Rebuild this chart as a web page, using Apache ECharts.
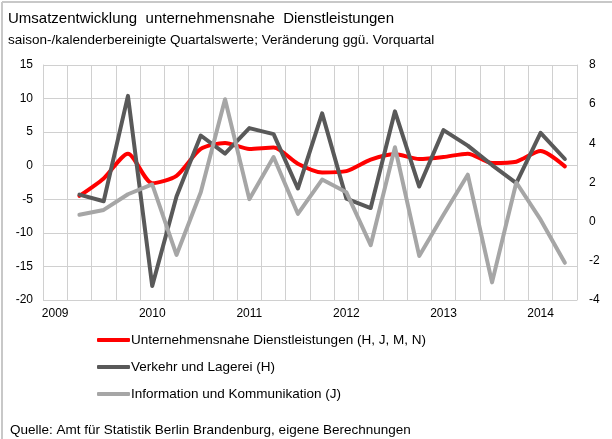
<!DOCTYPE html>
<html>
<head>
<meta charset="utf-8">
<script src="https://cdn.jsdelivr.net/npm/echarts@6/dist/echarts.min.js"></script>
<style>
  html, body { margin: 0; padding: 0; background: #fff; }
  #main { width: 612px; height: 439px; }
</style>
</head>
<body>
<div id="main"></div>
<script>
// Quartale 2009 Q1 bis 2014 Q2
var quarters = [
    '2009 Q1','2009 Q2','2009 Q3','2009 Q4',
    '2010 Q1','2010 Q2','2010 Q3','2010 Q4',
    '2011 Q1','2011 Q2','2011 Q3','2011 Q4',
    '2012 Q1','2012 Q2','2012 Q3','2012 Q4',
    '2013 Q1','2013 Q2','2013 Q3','2013 Q4',
    '2014 Q1','2014 Q2'
];

// linke Achse
var dienstleistungen = [null, -4.5, -1.9, 1.8, -2.6, -1.5, 2.5, 3.4, 2.5, 2.7, 0.3, -1.0,
    -0.8, 0.9, 1.7, 1.0, 1.3, 1.8, 0.4, 0.6, 2.2, -0.1];
var verkehr = [null, -4.3, -5.3, 10.4, -17.9, -4.6, 4.5, 1.8, 5.6, 4.7, -3.4, 7.8,
    -4.9, -6.3, 8.1, -3.1, 5.3, 3.0, 0.1, -2.6, 4.9, 1.0];
// rechte Achse
var information = [null, 0.35, 0.6, 1.4, 1.9, -1.7, 1.5, 6.25, 1.15, 3.3, 0.4, 2.15,
    1.5, -1.2, 3.8, -1.75, 0.35, 2.4, -3.1, 2.0, 0.1, -2.1];

var names = [
    'Unternehmensnahe Dienstleistungen (H, J, M, N)',
    'Verkehr und Lagerei (H)',
    'Information und Kommunikation (J)'
];
var colors = ['#ff0000', '#595959', '#a6a6a6'];

var font = '"Liberation Sans", Arial, sans-serif';
var gridColor = '#d0d0d0';

var chart = echarts.init(document.getElementById('main'));

var option = {
    animation: false,
    textStyle: { fontFamily: font },
    title: {
        text: 'Umsatzentwicklung  unternehmensnahe  Dienstleistungen',
        subtext: 'saison-/kalenderbereinigte Quartalswerte; Veränderung ggü. Vorquartal',
        left: 3,
        top: 6,
        itemGap: 7,
        textStyle: { fontFamily: font, fontSize: 15, fontWeight: 'normal', color: '#000' },
        subtextStyle: { fontFamily: font, fontSize: 13.5, color: '#000' }
    },
    legend: {
        orient: 'vertical',
        left: 92,
        top: 328,
        itemGap: 13,
        itemWidth: 33,
        itemHeight: 4,
        icon: 'roundRect',
        data: names,
        textStyle: { fontFamily: font, fontSize: 13.5, color: '#000', padding: [0, 0, 0, -4] }
    },
    grid: { left: 43, right: 35, top: 65, bottom: 139 },
    xAxis: {
        type: 'category',
        data: quarters,
        boundaryGap: true,
        axisLine: { lineStyle: { color: gridColor, width: 1 } },
        axisTick: { show: false },
        axisLabel: {
            interval: 3,
            color: '#000',
            fontSize: 12,
            margin: 8,
            formatter: function (v) { return v.slice(0, 4); }
        },
        splitLine: { show: true, interval: 0, lineStyle: { color: gridColor, width: 1 } }
    },
    yAxis: [{
        type: 'value',
        min: -20,
        max: 15,
        interval: 5,
        axisLine: { show: true, lineStyle: { color: gridColor } },
        axisTick: { show: false },
        axisLabel: { color: '#000', fontSize: 12, margin: 10 },
        splitLine: { show: true, lineStyle: { color: gridColor, width: 1 } }
    }, {
        type: 'value',
        min: -4,
        max: 8,
        interval: 2,
        position: 'right',
        axisLine: { show: true, lineStyle: { color: gridColor } },
        axisTick: { show: false },
        axisLabel: { color: '#000', fontSize: 12, margin: 12 },
        splitLine: { show: false }
    }],
    series: [{
        name: names[0],
        type: 'line',
        yAxisIndex: 0,
        data: dienstleistungen,
        symbol: 'none',
        smooth: 0.25,
        lineStyle: { color: colors[0], width: 4, join: 'round', cap: 'round' },
        itemStyle: { color: colors[0] }
    }, {
        name: names[1],
        type: 'line',
        yAxisIndex: 0,
        data: verkehr,
        symbol: 'none',
        lineStyle: { color: colors[1], width: 4, join: 'round', cap: 'round' },
        itemStyle: { color: colors[1] }
    }, {
        name: names[2],
        type: 'line',
        yAxisIndex: 1,
        data: information,
        symbol: 'none',
        lineStyle: { color: colors[2], width: 4, join: 'round', cap: 'round' },
        itemStyle: { color: colors[2] }
    }],
    graphic: [{
        type: 'line',
        shape: { x1: 2, y1: 2, x2: 612, y2: 2 },
        style: { stroke: '#c8c8c8', lineWidth: 2 }
    }, {
        type: 'line',
        shape: { x1: 2, y1: 2, x2: 2, y2: 439 },
        style: { stroke: '#c8c8c8', lineWidth: 2 }
    }, {
        type: 'text',
        left: 10,
        top: 423,
        style: {
            text: 'Quelle: Amt für Statistik Berlin Brandenburg, eigene Berechnungen',
            font: '13.5px ' + font,
            fill: '#000'
        }
    }]
};

chart.setOption(option);
</script>
</body>
</html>
